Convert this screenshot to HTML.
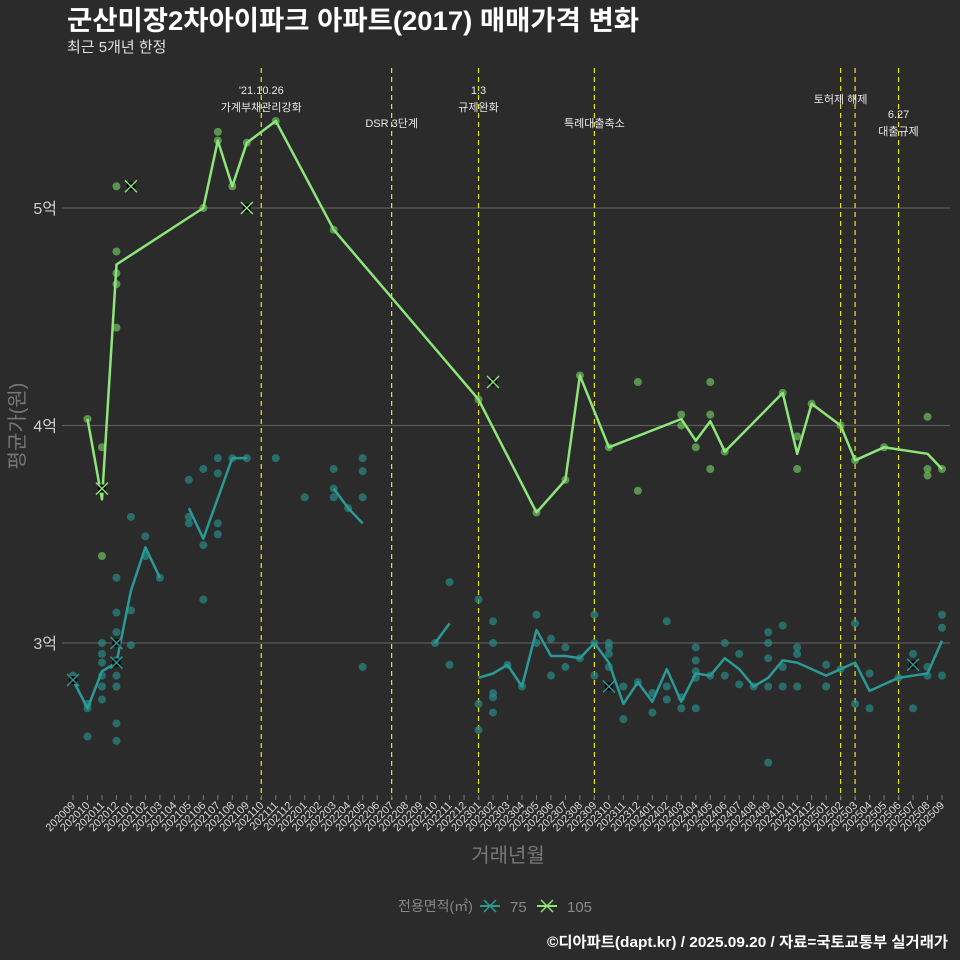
<!DOCTYPE html>
<html><head><meta charset="utf-8">
<style>
html,body{margin:0;padding:0;background:#2b2b2b;}
svg{display:block;font-family:"Liberation Sans","Noto Sans CJK KR",sans-serif;}
</style></head>
<body>
<svg id="chart" width="960" height="960" viewBox="0 0 960 960">
<rect x="0" y="0" width="960" height="960" fill="#2b2b2b"/>
<text x="67" y="30" fill="#ffffff" font-size="27" font-weight="bold" textLength="572" lengthAdjust="spacingAndGlyphs">군산미장2차아이파크 아파트(2017) 매매가격 변화</text>
<text x="67" y="52" fill="#e0e0e0" font-size="15">최근 5개년 한정</text>
<g id="grid"></g>
<g id="vlines"></g>
<g id="marks"></g>
<g id="xaxis"></g>
<text x="24" y="426" fill="#777" font-size="20" text-anchor="middle" transform="rotate(-90 24 426)">평균가(원)</text>
<text x="508" y="862" fill="#777" font-size="20" text-anchor="middle">거래년월</text>
<g>
<text x="398" y="911" fill="#888" font-size="14">전용면적(㎡)</text>
<g>
<line x1="480" y1="906" x2="500" y2="906" stroke="#2a9a97" stroke-width="2"/>
<line x1="484" y1="900" x2="496" y2="912" stroke="#2a9a97" stroke-width="1.5"/>
<line x1="484" y1="912" x2="496" y2="900" stroke="#2a9a97" stroke-width="1.5"/>
<text x="510" y="912" fill="#888" font-size="15">75</text></g>
<g>
<line x1="537" y1="906" x2="557" y2="906" stroke="#8ee57a" stroke-width="2"/>
<line x1="541" y1="900" x2="553" y2="912" stroke="#8ee57a" stroke-width="1.5"/>
<line x1="541" y1="912" x2="553" y2="900" stroke="#8ee57a" stroke-width="1.5"/>
<text x="567" y="912" fill="#888" font-size="15">105</text></g>
</g>
<text x="948" y="947" fill="#ffffff" font-size="15" font-weight="bold" text-anchor="end" textLength="401" lengthAdjust="spacingAndGlyphs">©디아파트(dapt.kr) / 2025.09.20 / 자료=국토교통부 실거래가</text>
</svg>
<script>
const months = [];
for (let y = 2020, m = 9; months.length < 61; ) { months.push(String(y) + String(m).padStart(2, '0')); m++; if (m > 12) { m = 1; y++; } }
const yTicks = [3, 4, 5];
const yTickLabels = ['3억', '4억', '5억'];
const events = [['202110', "'21.10.26", '가계부채관리강화'], ['202207', '', 'DSR 3단계'], ['202301', '1.3', '규제완화'], ['202309', '', '특례대출축소'], ['202502', '', '토허제 해제'], ['202503', '', ''], ['202506', '6.27', '대출규제']];
const line75 = [[0,2.83],[1,2.70],[2,2.87],[3,2.91],[4,3.24],[5,3.44],[6,3.30],null,[8,3.62],[9,3.48],[11,3.85],[12,3.85],null,[18,3.71],[19,3.62],[20,3.55],null,[25,3.00],[26,3.09],null,[28,2.84],[29,2.86],[30,2.90],[31,2.80],[32,3.06],[33,2.94],[34,2.94],[35,2.93],[36,3.00],[37,2.91],[38,2.72],[39,2.82],[40,2.73],[41,2.88],[42,2.73],[43,2.86],[44,2.85],[45,2.93],[46,2.88],[47,2.80],[48,2.84],[49,2.92],[50,2.91],[52,2.85],[53,2.88],[54,2.91],[55,2.78],[57,2.84],[59,2.86],[60,3.01]];
const line105 = [[1,4.03],[2,3.66],[3,4.74],[9,5.0],[10,5.31],[11,5.10],[12,5.30],[14,5.40],[18,4.90],[28,4.12],[32,3.60],[34,3.75],[35,4.23],[37,3.90],[42,4.03],[43,3.93],[44,4.02],[45,3.88],[49,4.15],[50,3.87],[51,4.10],[53,4.00],[54,3.84],[56,3.90],[59,3.87],[60,3.80]];
const dots75 = [[0,2.83],[0,2.85],[1,2.57],[1,2.72],[1,2.70],[2,3.00],[2,2.95],[2,2.91],[2,2.85],[2,2.80],[2,2.74],[3,3.30],[3,3.14],[3,3.05],[3,3.00],[3,2.92],[3,2.85],[3,2.80],[3,2.63],[3,2.55],[4,3.58],[4,3.15],[4,2.99],[5,3.49],[5,3.40],[6,3.30],[8,3.75],[8,3.58],[8,3.55],[9,3.80],[9,3.45],[9,3.20],[10,3.85],[10,3.78],[10,3.55],[10,3.50],[11,3.85],[12,3.85],[14,3.85],[16,3.67],[18,3.80],[18,3.71],[18,3.67],[19,3.62],[20,3.85],[20,3.79],[20,3.67],[20,2.89],[25,3.00],[26,3.28],[26,2.90],[28,3.20],[28,2.72],[28,2.60],[29,3.10],[29,3.00],[29,2.77],[29,2.75],[29,2.68],[30,2.90],[31,2.80],[32,3.13],[32,3.00],[33,3.02],[33,2.85],[34,2.98],[34,2.89],[35,2.93],[36,3.13],[36,3.00],[36,2.85],[37,3.00],[37,2.98],[37,2.95],[37,2.89],[38,2.80],[38,2.65],[39,2.82],[40,2.77],[40,2.68],[41,3.10],[41,2.80],[41,2.74],[42,2.75],[42,2.70],[43,2.98],[43,2.92],[43,2.87],[43,2.84],[43,2.70],[44,2.85],[45,3.00],[45,2.85],[46,2.95],[46,2.81],[47,2.80],[48,3.05],[48,3.00],[48,2.93],[48,2.80],[48,2.45],[49,3.08],[49,2.89],[49,2.80],[50,2.98],[50,2.95],[50,2.80],[52,2.90],[52,2.80],[53,2.88],[54,3.09],[54,2.72],[55,2.86],[55,2.70],[57,2.84],[58,2.95],[58,2.70],[59,2.89],[59,2.85],[60,3.13],[60,3.07],[60,2.85]];
const dots105 = [[1,4.03],[2,3.90],[2,3.40],[3,5.10],[3,4.80],[3,4.70],[3,4.65],[3,4.45],[9,5.0],[10,5.35],[10,5.31],[11,5.10],[12,5.30],[14,5.40],[18,4.90],[28,4.12],[32,3.60],[34,3.75],[35,4.23],[37,3.90],[39,4.20],[39,3.70],[42,4.05],[42,4.00],[43,3.90],[44,4.05],[44,4.20],[44,3.80],[45,3.88],[49,4.15],[50,3.95],[50,3.80],[51,4.10],[53,4.00],[54,3.84],[56,3.90],[59,4.04],[59,3.80],[59,3.77],[60,3.80]];
const cross75 = [[0,2.83],[3,3.00],[3,2.91],[37,2.80],[58,2.90]];
const cross105 = [[2,3.71],[4,5.10],[12,5.00],[29,4.20]];

const NS = 'http://www.w3.org/2000/svg';
const X0 = 73, X1 = 942, PL = 62, PR = 950, PT = 68, PB = 800;
function xScale(i) { return X0 + i * (X1 - X0) / (months.length - 1); }
function yScale(v) { return 643 - (v - 3) * 217.5; }
function mk(tag, attrs, parent) { const e = document.createElementNS(NS, tag); for (const k in attrs) e.setAttribute(k, attrs[k]); parent.appendChild(e); return e; }

const grid = document.getElementById('grid');
yTicks.forEach((v, i) => {
  const g = mk('line', {x1: PL, x2: PR, y1: yScale(v), y2: yScale(v), stroke: '#5a5a5a', 'stroke-width': 1.2}, grid);
  
  
  const t = mk('text', {x: 57, y: yScale(v) + 6, fill: '#cfcfcf', 'font-size': 16, 'text-anchor': 'end'}, grid);
  t.textContent = yTickLabels[i];
  
  
});

const vl = document.getElementById('vlines');
events.forEach(ev => {
  const x = xScale(months.indexOf(ev[0]));
  const l = mk('line', {x1: x, x2: x, y1: PT, y2: PB, stroke: '#e8e812', 'stroke-width': 1.2, 'stroke-dasharray': '5,4'}, vl);
  
  
});
const ann = [[0, 94, 111], [1, null, 127], [2, 94, 111], [3, null, 127], [4, null, 103], [6, 118, 135]];
ann.forEach(a => {
  const ev = events[a[0]]; const x = xScale(months.indexOf(ev[0]));
  if (a[1] !== null) { const t = mk('text', {x: x, y: a[1], fill: '#e8e8e8', 'font-size': 11, 'text-anchor': 'middle'}, vl); t.textContent = ev[1];
    
     }
  const t2 = mk('text', {x: x, y: a[2], fill: '#e8e8e8', 'font-size': 11, 'text-anchor': 'middle'}, vl); t2.textContent = ev[2];
  
  
});

const marks = document.getElementById('marks');
function dots(arr, color, name) {
  arr.forEach(d => { const c = mk('circle', {cx: xScale(d[0]), cy: yScale(d[1]), r: 4, fill: color, 'fill-opacity': 0.7}, marks);
    
     });
}
function path(arr, color, name) {
  let d = '', start = true;
  arr.forEach(p => { if (!p) { start = true; return; } d += (start ? 'M' : 'L') + xScale(p[0]).toFixed(1) + ',' + yScale(p[1]).toFixed(1); start = false; });
  const e = mk('path', {d: d, fill: 'none', stroke: color, 'stroke-width': 2.5, 'stroke-linejoin': 'round'}, marks);
  
  
}
function crosses(arr, color, name) {
  arr.forEach(p => { const x = xScale(p[0]), y = yScale(p[1]);
    const g = mk('g', {}, marks);
    
    
    mk('rect', {x: x - 4, y: y - 4, width: 8, height: 8, fill: '#000'}, g);
    mk('line', {x1: x - 6, y1: y - 6, x2: x + 6, y2: y + 6, stroke: color, 'stroke-width': 1.4}, g);
    mk('line', {x1: x - 6, y1: y + 6, x2: x + 6, y2: y - 6, stroke: color, 'stroke-width': 1.4}, g); });
}
dots(dots75, '#2a8a87', 'dot-75');
dots(dots105, '#6fbf60', 'dot-105');
path(line75, '#2a9a97', 'line-75');
path(line105, '#8ee57a', 'line-105');
crosses(cross75, '#2a9a97', 'cross-75');
crosses(cross105, '#8ee57a', 'cross-105');

const xa = document.getElementById('xaxis');
months.forEach((m, i) => {
  const x = xScale(i);
  mk('line', {x1: x, x2: x, y1: 795, y2: 800, stroke: '#777', 'stroke-width': 1}, xa);
  const t = mk('text', {x: x + 3, y: 806, fill: '#d8d8d8', 'font-size': 11, 'text-anchor': 'end', transform: 'rotate(-45 ' + (x + 3) + ' 806)'}, xa);
  t.textContent = m;
  
  
});
</script>
</body></html>
